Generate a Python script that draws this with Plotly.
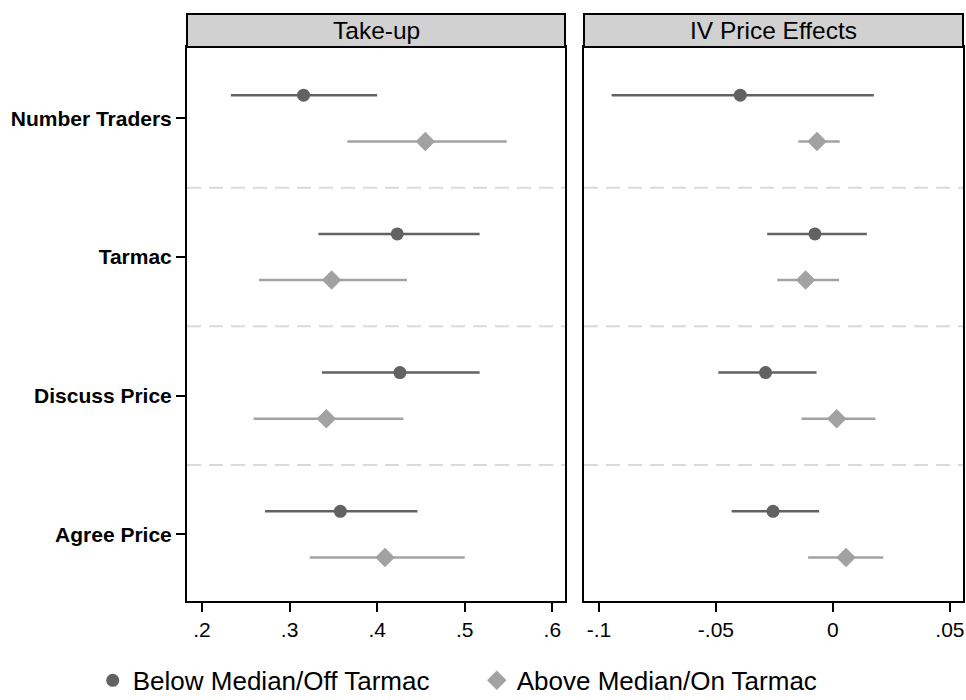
import numpy as np
import plotly.graph_objects as go

# ---- data ----
categories = ["Number Traders", "Tarmac", "Discuss Price", "Agree Price"]
series_names = ["Below Median/Off Tarmac", "Above Median/On Tarmac"]
panel_titles = ["Take-up", "IV Price Effects"]

takeup_below = [0.316, 0.423, 0.426, 0.358]
takeup_below_lo = [0.233, 0.333, 0.337, 0.272]
takeup_below_hi = [0.400, 0.517, 0.517, 0.446]
takeup_above = [0.455, 0.348, 0.342, 0.409]
takeup_above_lo = [0.366, 0.265, 0.259, 0.323]
takeup_above_hi = [0.548, 0.434, 0.430, 0.500]

price_below = [-0.0396, -0.0077, -0.0288, -0.0256]
price_below_lo = [-0.0946, -0.0281, -0.0490, -0.0433]
price_below_hi = [0.0175, 0.0145, -0.0070, -0.0059]
price_above = [-0.0068, -0.0117, 0.0016, 0.0056]
price_above_lo = [-0.0148, -0.0238, -0.0134, -0.0106]
price_above_hi = [0.0029, 0.0026, 0.0182, 0.0215]

x1_ticks = [0.2, 0.3, 0.4, 0.5, 0.6]
x1_ticktext = [".2", ".3", ".4", ".5", ".6"]
x2_ticks = [-0.1, -0.05, 0, 0.05]
x2_ticktext = ["-.1", "-.05", "0", ".05"]

# ---- style ----
FONT = "Liberation Sans, Arial, Helvetica, sans-serif"
C_BELOW = "#626262"
C_ABOVE = "#a2a2a2"
OFF = 1 / 6

W, H = 966, 700
def px_x(p):
    return p / W
def px_y(p):
    return (H - p) / H

plot_top, plot_bot = 47, 601
strip_top = 14
dom1 = [px_x(187), px_x(565)]
dom2 = [px_x(584), px_x(963)]
ydom = [px_y(plot_bot), px_y(plot_top)]

idx = np.arange(len(categories))
y_below = idx - OFF
y_above = idx + OFF

fig = go.Figure()

def seg(lo, hi, ys):
    xs, yy = [], []
    for a, b, y in zip(lo, hi, ys):
        xs += [a, b, None]
        yy += [y, y, None]
    return xs, yy

panels = [
    ("x", "y", takeup_below, takeup_below_lo, takeup_below_hi,
     takeup_above, takeup_above_lo, takeup_above_hi),
    ("x2", "y2", price_below, price_below_lo, price_below_hi,
     price_above, price_above_lo, price_above_hi),
]

for pi, (xa, ya, b, blo, bhi, a, alo, ahi) in enumerate(panels):
    xs, yy = seg(blo, bhi, y_below)
    fig.add_trace(go.Scatter(x=xs, y=yy, mode="lines", xaxis=xa, yaxis=ya,
                             line=dict(color=C_BELOW, width=2.5),
                             showlegend=False, hoverinfo="skip"))
    xs, yy = seg(alo, ahi, y_above)
    fig.add_trace(go.Scatter(x=xs, y=yy, mode="lines", xaxis=xa, yaxis=ya,
                             line=dict(color=C_ABOVE, width=2.5),
                             showlegend=False, hoverinfo="skip"))
    fig.add_trace(go.Scatter(x=b, y=y_below, mode="markers", xaxis=xa, yaxis=ya,
                             marker=dict(symbol="circle", size=13, color=C_BELOW),
                             name=series_names[0], showlegend=(pi == 0)))
    fig.add_trace(go.Scatter(x=a, y=y_above, mode="markers", xaxis=xa, yaxis=ya,
                             marker=dict(symbol="diamond", size=15, color=C_ABOVE),
                             name=series_names[1], showlegend=(pi == 0)))

shapes = []
annotations = []
for xa, ya, dom, title in [("x", "y", dom1, panel_titles[0]), ("x2", "y2", dom2, panel_titles[1])]:
    for yv in [0.5, 1.5, 2.5]:
        shapes.append(dict(type="line", xref=f"{xa} domain", yref=ya, x0=0, x1=1,
                           y0=yv, y1=yv, line=dict(color="#dadada", width=2, dash="14px,8px"),
                           layer="below"))
    shapes.append(dict(type="rect", xref="paper", yref="paper",
                       x0=dom[0], x1=dom[1], y0=ydom[1], y1=px_y(strip_top),
                       fillcolor="#d1d1d1", line=dict(color="black", width=2)))
    annotations.append(dict(text=title, xref="paper", yref="paper",
                            x=(dom[0] + dom[1]) / 2, y=(ydom[1] + px_y(strip_top)) / 2,
                            xanchor="center", yanchor="middle", showarrow=False,
                            font=dict(family=FONT, size=24.5, color="black")))

axis_common = dict(showline=True, linecolor="black", linewidth=2, mirror=True,
                   showgrid=False, zeroline=False, ticks="outside", ticklen=9,
                   tickwidth=2, tickcolor="black")

fig.update_layout(
    width=W, height=H,
    margin=dict(l=0, r=0, t=0, b=0, autoexpand=False),
    paper_bgcolor="white", plot_bgcolor="white",
    font=dict(family=FONT, color="black"),
    xaxis=dict(domain=dom1, range=[0.1829, 0.6145], tickvals=x1_ticks,
               ticktext=x1_ticktext, anchor="y",
               tickfont=dict(family=FONT, size=21), **axis_common),
    yaxis=dict(domain=ydom, range=[3.48, -0.514], tickvals=list(idx),
               ticktext=[f"<b>{c}</b>" for c in categories], anchor="x",
               tickfont=dict(family=FONT, size=21), **axis_common),
    xaxis2=dict(domain=dom2, range=[-0.1064, 0.0556], tickvals=x2_ticks,
                ticktext=x2_ticktext, anchor="y2",
                tickfont=dict(family=FONT, size=21), **axis_common),
    yaxis2=dict(domain=ydom, range=[3.48, -0.514], anchor="x2",
                showticklabels=False, showline=True, linecolor="black", linewidth=2,
                mirror=True, showgrid=False, zeroline=False, ticks=""),
    shapes=shapes,
    annotations=annotations,
    legend=dict(orientation="h", x=0.096, y=0.028, xanchor="left", yanchor="middle",
                font=dict(family=FONT, size=26, color="black"),
                entrywidth=339, entrywidthmode="pixels", bgcolor="rgba(0,0,0,0)"),
    showlegend=True,
)

fig.write_html("out.html")
